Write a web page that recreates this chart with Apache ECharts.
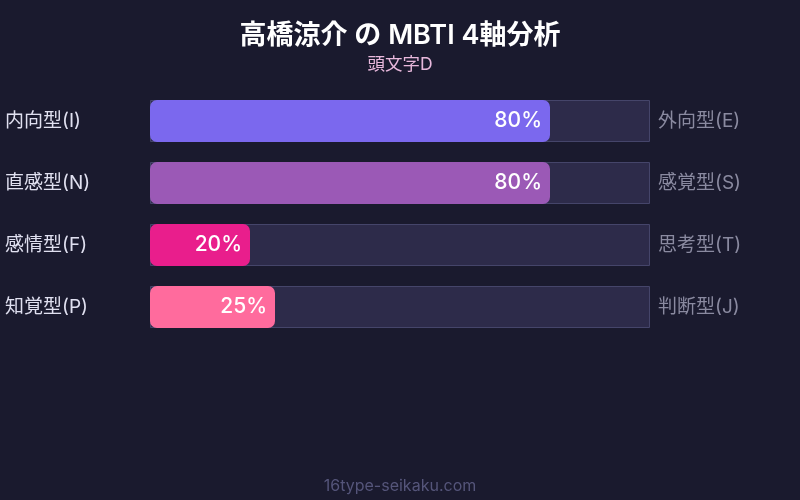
<!DOCTYPE html>
<html>
<head>
<meta charset="utf-8">
<script src="https://cdn.jsdelivr.net/npm/echarts@6/dist/echarts.min.js"></script>
<style>
html,body{margin:0;padding:0;background:#1a1a2e;}
#c{width:800px;height:500px;}
</style>
</head>
<body>
<div id="c"></div>
<script>
var titleText = '高橋涼介 の MBTI 4軸分析';
var subtitleText = '頭文字D';
var footerText = '16type-seikaku.com';
var leftLabels = ['内向型(I)', '直感型(N)', '感情型(F)', '知覚型(P)'];
var rightLabels = ['外向型(E)', '感覚型(S)', '思考型(T)', '判断型(J)'];
var values = [80, 80, 20, 25];
var trackValues = [100, 100, 100, 100];
var barColors = ['#7b68ee', '#9b59b6', '#e91e8c', '#ff6b9d'];

var FONT = 'Inter, "Noto Sans CJK JP", sans-serif';
var chart = echarts.init(document.getElementById('c'));
chart.setOption({
  backgroundColor: '#1a1a2e',
  animation: false,
  title: [
    {text: titleText, left: 'center', top: 17,
     textStyle: {color: '#ffffff', fontSize: 27, fontWeight: 600, fontFamily: FONT}},
    {text: subtitleText, left: 'center', top: 51,
     textStyle: {color: '#e8b8dc', fontSize: 17.5, fontWeight: 'normal', fontFamily: FONT}},
    {text: footerText, left: 'center', top: 473,
     textStyle: {color: '#55557a', fontSize: 16, fontWeight: 'normal', fontFamily: FONT}}
  ],
  grid: {left: 150, width: 500, top: 90, height: 248},
  xAxis: {type: 'value', min: 0, max: 100, show: false},
  yAxis: [
    {type: 'category', data: leftLabels, inverse: true,
     axisLine: {show: false}, axisTick: {show: false},
     axisLabel: {align: 'left', margin: 145, color: '#e0e0f0', fontSize: 19, fontFamily: FONT}},
    {type: 'category', data: rightLabels, inverse: true, position: 'right',
     axisLine: {show: false}, axisTick: {show: false},
     axisLabel: {align: 'left', margin: 8, color: '#8a8aa0', fontSize: 19, fontFamily: FONT}}
  ],
  series: [
    {type: 'bar', data: trackValues, barWidth: 42, silent: true,
     itemStyle: {color: '#2d2b4a', borderColor: '#45456a', borderWidth: 1}},
    {type: 'bar', data: values.map(function(v, i){ return {value: v, itemStyle: {color: barColors[i]}}; }),
     barWidth: 42, barGap: '-100%',
     itemStyle: {borderRadius: 7},
     label: {show: true, position: 'insideRight', distance: 8, formatter: '{c}%',
             color: '#ffffff', fontSize: 21, fontWeight: 500, fontFamily: FONT}}
  ]
});
</script>
</body>
</html>
